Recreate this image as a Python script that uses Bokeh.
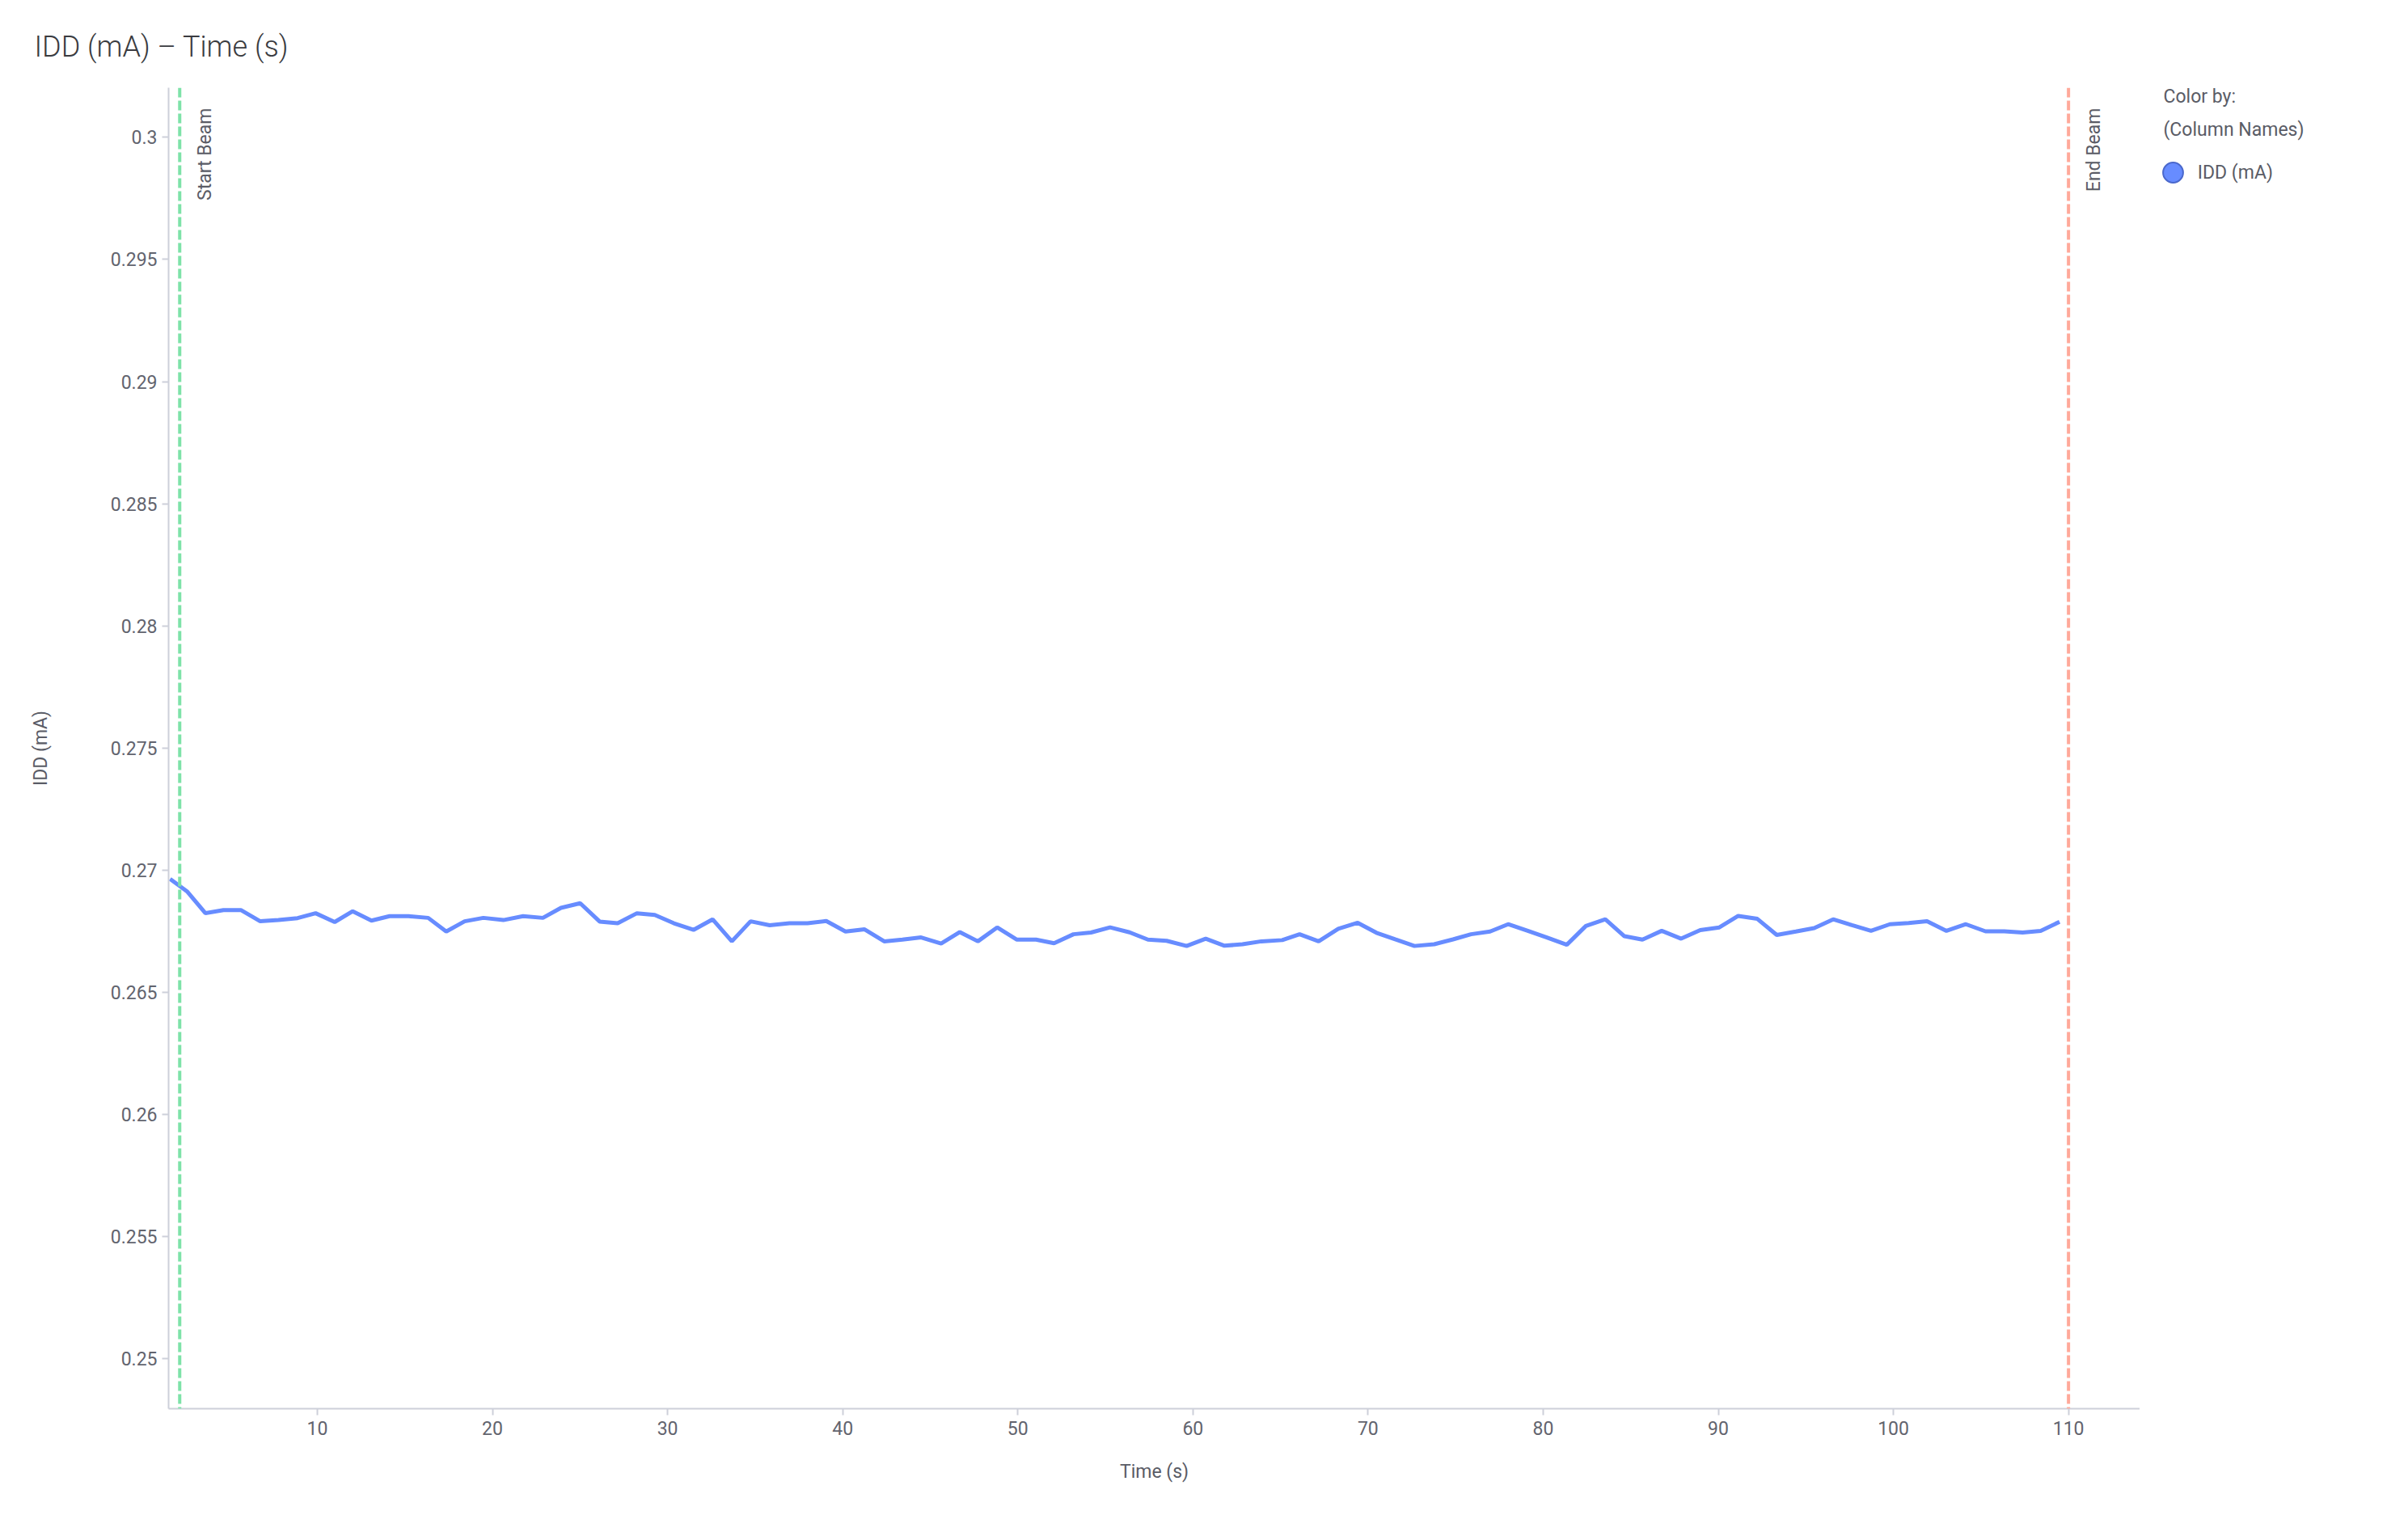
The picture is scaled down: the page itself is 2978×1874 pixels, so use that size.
from bokeh.plotting import figure
from bokeh.layouts import row
from bokeh.models import Range1d, FixedTicker, Span, Label, Legend, LegendItem
from bokeh.embed import file_html
from bokeh.resources import INLINE
from math import pi

# ---- data ----
time_s = [1.59, 2.58, 3.61, 4.64, 5.63, 6.74, 7.78, 8.87, 9.90, 10.99,
          12.02, 13.09, 14.12, 15.21, 16.33, 17.36, 18.41, 19.48, 20.62, 21.75,
          22.88, 23.91, 25.01, 26.12, 27.15, 28.25, 29.27, 30.36, 31.48, 32.57,
          33.67, 34.74, 35.83, 36.96, 37.99, 39.06, 40.16, 41.25, 42.37, 43.41,
          44.48, 45.62, 46.69, 47.72, 48.82, 49.95, 51.04, 52.07, 53.18, 54.18,
          55.27, 56.38, 57.43, 58.50, 59.64, 60.73, 61.80, 62.83, 63.91, 65.10,
          66.09, 67.18, 68.30, 69.41, 70.48, 71.55, 72.65, 73.78, 74.85, 75.88,
          76.97, 78.00, 79.12, 80.21, 81.35, 82.44, 83.55, 84.64, 85.67, 86.77,
          87.88, 88.97, 90.06, 91.14, 92.23, 93.34, 94.43, 95.48, 96.56, 97.64,
          98.72, 99.80, 100.87, 101.92, 103.03, 104.14, 105.26, 106.33, 107.38, 108.41,
          109.49]
idd_ma = [0.26964, 0.26912, 0.26824, 0.26837, 0.26837, 0.26791, 0.26796, 0.26804, 0.26824, 0.26788,
          0.26832, 0.26794, 0.26812, 0.26812, 0.26805, 0.26749, 0.26791, 0.26805, 0.26796, 0.26812,
          0.26805, 0.26846, 0.26865, 0.26790, 0.26783, 0.26824, 0.26817, 0.26783, 0.26756, 0.26799,
          0.26709, 0.26791, 0.26775, 0.26783, 0.26783, 0.26792, 0.26749, 0.26758, 0.26709, 0.26716,
          0.26725, 0.26700, 0.26747, 0.26709, 0.26766, 0.26716, 0.26716, 0.26701, 0.26738, 0.26745,
          0.26766, 0.26746, 0.26716, 0.26711, 0.26690, 0.26720, 0.26691, 0.26697, 0.26709, 0.26714,
          0.26738, 0.26709, 0.26760, 0.26785, 0.26744, 0.26717, 0.26690, 0.26697, 0.26717, 0.26738,
          0.26749, 0.26779, 0.26752, 0.26725, 0.26695, 0.26772, 0.26799, 0.26730, 0.26716, 0.26752,
          0.26720, 0.26755, 0.26766, 0.26813, 0.26801, 0.26735, 0.26749, 0.26763, 0.26799, 0.26775,
          0.26752, 0.26779, 0.26784, 0.26791, 0.26752, 0.26779, 0.26750, 0.26750, 0.26745, 0.26752,
          0.26789]
x_ticks = [10, 20, 30, 40, 50, 60, 70, 80, 90, 100, 110]
y_ticks = [0.25, 0.255, 0.26, 0.265, 0.27, 0.275, 0.28, 0.285, 0.29, 0.295, 0.3]
y_tick_labels = ["0.25", "0.255", "0.26", "0.265", "0.27", "0.275", "0.28",
                 "0.285", "0.29", "0.295", "0.3"]
start_beam = 2.14
end_beam = 110.0
series_name = "IDD (mA)"
x_title = "Time (s)"
chart_title = "IDD (mA) \u2013 Time (s)"
legend_header = ["Color by:", "(Column Names)"]

FONT = "Roboto"
TICK_COL = "#62646e"
AXIS_COL = "#cdd0da"
TEXT_COL = "#5a5c66"
LINE_COL = "#678cff"

H = 1866
PW, LW = 2646, 324          # main plot width, legend panel width
TOP, BOTTOM = 108, 1742     # frame top / bottom (shared by both figures)

p = figure(width=PW, height=H,
           x_range=Range1d(1.505, 114.08), y_range=Range1d(0.24796, 0.30203),
           output_backend="svg", toolbar_location=None,
           min_border_left=208, min_border_right=0,
           min_border_top=TOP, min_border_bottom=H - BOTTOM)
p.outline_line_color = None
p.xgrid.visible = False
p.ygrid.visible = False
p.background_fill_color = "white"
p.border_fill_color = "white"

# title
p.title.text = chart_title
p.title.align = "left"
p.title.offset = -166
p.title.vertical_align = "bottom"
p.title.standoff = 59
p.title.text_font = "Roboto Light"
p.title.text_font_size = "36px"
p.title.text_font_style = "normal"
p.title.text_color = "#3a3b40"

p.xaxis.ticker = FixedTicker(ticks=x_ticks)
p.yaxis.ticker = FixedTicker(ticks=y_ticks)
p.yaxis.major_label_overrides = {t: s for t, s in zip(y_ticks, y_tick_labels)}
p.xaxis.axis_label = x_title
p.yaxis.axis_label = series_name

for ax in (p.xaxis[0], p.yaxis[0]):
    ax.axis_line_color = AXIS_COL
    ax.axis_line_width = 2
    ax.major_tick_line_color = AXIS_COL
    ax.major_tick_line_width = 2
    ax.major_tick_in = 0
    ax.major_tick_out = 8
    ax.minor_tick_line_color = None
    ax.major_label_text_font = FONT
    ax.major_label_text_font_size = "23px"
    ax.major_label_text_color = TICK_COL
    ax.axis_label_text_font = FONT
    ax.axis_label_text_font_size = "23px"
    ax.axis_label_text_font_style = "normal"
    ax.axis_label_text_color = TEXT_COL
p.xaxis[0].major_label_standoff = 7
p.yaxis[0].major_label_standoff = 6
p.xaxis[0].axis_label_standoff = 29
p.yaxis[0].axis_label_standoff = 70

# data line
p.line(time_s, idd_ma, line_color=LINE_COL, line_width=5)

# beam markers
p.add_layout(Span(location=start_beam, dimension="height", line_color="#7ee2a8",
                  line_width=4, line_dash="12 4"))
p.add_layout(Span(location=end_beam, dimension="height", line_color="#ffa99a",
                  line_width=4, line_dash="12 4"))
for xv, txt in ((start_beam, "Start Beam"), (end_beam, "End Beam")):
    p.add_layout(Label(x=xv, y=1609, x_units="data", y_units="screen", x_offset=31,
                       angle=pi / 2, text=txt, text_align="right",
                       text_baseline="alphabetic", text_font=FONT,
                       text_font_size="23px", text_color=TEXT_COL))

# ---- legend panel (a second, axis-less figure to the right) ----
lg = figure(width=LW, height=H, x_range=Range1d(0, 1), y_range=Range1d(0, 1),
            output_backend="svg", toolbar_location=None,
            x_axis_location=None, y_axis_location=None,
            min_border_left=0, min_border_right=0,
            min_border_top=TOP, min_border_bottom=H - BOTTOM)
lg.outline_line_color = None
lg.xgrid.visible = False
lg.ygrid.visible = False
lg.background_fill_color = "white"
lg.border_fill_color = "white"

# screen y is measured upward from the frame bottom (page y = BOTTOM)
for txt, base in zip(legend_header, (119.2, 159.8)):
    lg.add_layout(Label(x=29, y=BOTTOM - base, x_units="screen", y_units="screen",
                        text=txt, text_align="left", text_baseline="alphabetic",
                        text_font=FONT, text_font_size="23px", text_color=TEXT_COL))

sc = lg.scatter(time_s, idd_ma, marker="circle", size=25, fill_color=LINE_COL,
                line_color="#4a68cc", line_width=2, visible=False)
legend = Legend(items=[LegendItem(label=series_name, renderers=[sc])],
                location=(9.7, BOTTOM - 244.3),
                glyph_width=62, glyph_height=62,
                label_standoff=-6, padding=0, margin=0, spacing=0,
                border_line_color=None, background_fill_alpha=0,
                inactive_fill_alpha=0,
                label_text_font=FONT, label_text_font_size="23px",
                label_text_color=TEXT_COL)
lg.add_layout(legend)

layout = row(p, lg, spacing=0)
open("out.html", "w").write(file_html(layout, INLINE))
